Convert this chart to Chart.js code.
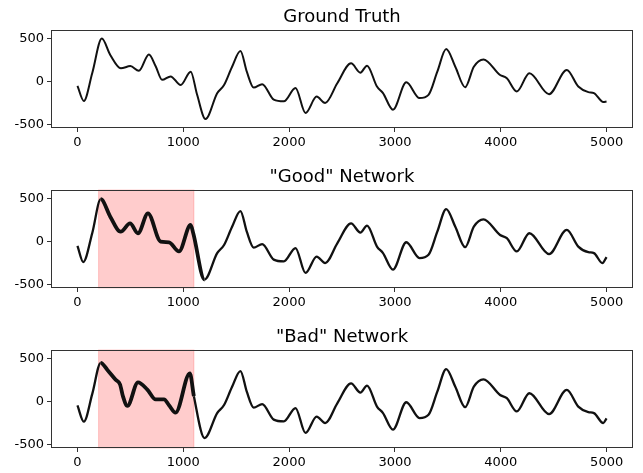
<!DOCTYPE html>
<html>
<head>
<meta charset="utf-8">
<script src="https://cdn.jsdelivr.net/npm/chart.js@4.4.1/dist/chart.umd.min.js"></script>
<style>
  html, body { margin: 0; padding: 0; background: #fff; overflow: hidden; }
  #wrap { position: relative; width: 643px; height: 473px; }
  canvas { position: absolute; left: 0; }
</style>
</head>
<body>
<div id="wrap">
  <canvas id="c-truth" width="643" height="160" style="top:0px"></canvas>
  <canvas id="c-good" width="643" height="160" style="top:160px"></canvas>
  <canvas id="c-bad" width="643" height="153" style="top:320px"></canvas>
</div>
<script>
// --- data ---
const xTicks = [0, 1000, 2000, 3000, 4000, 5000];
const yTicks = [-500, 0, 500];
const errorSpan = [200, 1100]; // shaded region on the network plots

const truthX = [0, 60, 140, 230, 310, 410, 500, 580, 675, 740, 800, 880, 975, 1070, 1130, 1210, 1320, 1385, 1460, 1540, 1600, 1665, 1745, 1855, 1950, 2060, 2155, 2260, 2340, 2455, 2585, 2673, 2736, 2830, 2887, 2981, 3107, 3232, 3317, 3400, 3484, 3570, 3663, 3745, 3836, 3993, 4057, 4151, 4270, 4456, 4623, 4732, 4827, 4880, 4968, 4999];
const truthY = [-50, -225, 100, 500, 310, 155, 180, 125, 315, 175, 20, 60, -40, 115, -150, -435, -135, -40, 170, 355, 115, -70, -30, -210, -230, -75, -365, -175, -250, -20, 212, 104, 185, -58, -134, -327, -8, -192, -154, 115, 378, 173, -65, 173, 258, 77, 39, -115, 97, -146, 135, -58, -123, -134, -238, -231];

const goodX = [0, 55, 140, 220, 310, 408, 497, 572, 666, 786, 865, 959, 1069, 1094, 1201, 1320, 1385, 1460, 1540, 1600, 1665, 1745, 1855, 1950, 2060, 2155, 2260, 2340, 2455, 2585, 2673, 2736, 2830, 2887, 2981, 3107, 3232, 3317, 3400, 3484, 3570, 3663, 3745, 3836, 3993, 4057, 4151, 4270, 4456, 4623, 4732, 4827, 4880, 4960, 4999];
const goodY = [-50, -238, 100, 493, 290, 115, 212, 97, 328, 0, -8, -115, 193, 97, -442, -135, -40, 170, 355, 115, -70, -30, -210, -230, -75, -365, -175, -250, -20, 212, 104, 185, -58, -134, -327, -8, -192, -154, 115, 378, 173, -65, 173, 258, 77, 39, -115, 97, -146, 135, -58, -123, -134, -250, -180];

const badX = [0, 60, 140, 220, 283, 361, 402, 430, 472, 572, 660, 739, 818, 865, 927, 1062, 1100, 1201, 1320, 1385, 1460, 1540, 1600, 1665, 1745, 1855, 1950, 2060, 2155, 2260, 2340, 2455, 2585, 2673, 2736, 2830, 2887, 2981, 3107, 3232, 3317, 3400, 3484, 3570, 3663, 3745, 3836, 3993, 4057, 4151, 4270, 4456, 4623, 4732, 4827, 4880, 4968, 4999];
const badY = [-45, -234, 90, 451, 368, 253, 200, 60, -50, 223, 139, 25, 25, -43, -128, 329, 63, -425, -135, -40, 170, 355, 115, -70, -30, -210, -230, -75, -365, -175, -250, -20, 212, 104, 185, -58, -134, -327, -8, -192, -154, 115, 378, 173, -65, 173, 258, 77, 39, -115, 97, -146, 135, -58, -123, -134, -250, -196];

Chart.defaults.font.family = "'DejaVu Sans', sans-serif";
Chart.defaults.color = '#000';

// draws the shaded span (under the line) and the full axes box (on top)
const boxPlugin = {
    id: 'box',
    beforeDatasetsDraw(chart, args, opts) {
        if (!opts.span) return;
        const a = chart.chartArea, ctx = chart.ctx, xs = chart.scales.x;
        const x0 = xs.getPixelForValue(opts.span[0]);
        const x1 = xs.getPixelForValue(opts.span[1]);
        ctx.save();
        ctx.fillStyle = 'rgba(255,0,0,0.2)';
        ctx.fillRect(x0, a.top, x1 - x0, a.bottom - a.top);
        ctx.strokeStyle = 'rgba(255,0,0,0.2)';
        ctx.lineWidth = 1;
        ctx.strokeRect(x0, a.top, x1 - x0, a.bottom - a.top);
        ctx.restore();
    },
    afterDraw(chart) {
        const a = chart.chartArea, ctx = chart.ctx;
        ctx.save();
        ctx.strokeStyle = '#333';
        ctx.lineWidth = 1;
        ctx.strokeRect(Math.round(a.left) + 0.5, Math.round(a.top) + 0.5,
            Math.round(a.right - a.left) - 1, Math.round(a.bottom - a.top) - 1);
        ctx.restore();
    }
};

function makeChart(id, title, xs, ys, span, baseWidth, spanWidth, axisHeight) {
    const points = xs.map((x, i) => ({ x: x, y: ys[i] }));
    const inSpan = ctx => span && ctx.p0.parsed.x >= span[0] && ctx.p0.parsed.x < span[1];
    return new Chart(document.getElementById(id), {
        type: 'line',
        data: {
            datasets: [{
                data: points,
                borderColor: '#111',
                borderWidth: baseWidth,
                pointRadius: 0,
                cubicInterpolationMode: 'monotone',
                segment: { borderWidth: ctx => inSpan(ctx) ? spanWidth : baseWidth }
            }]
        },
        options: {
            responsive: false,
            animation: false,
            layout: { padding: { left: 0, right: 10, top: 0, bottom: 0 } },
            plugins: {
                legend: { display: false },
                tooltip: { enabled: false },
                title: {
                    display: true, text: title, fullSize: false,
                    font: { size: 18, weight: 'normal', lineHeight: 1 },
                    padding: { top: 8, bottom: 4 }
                },
                box: { span: span }
            },
            scales: {
                x: {
                    type: 'linear', min: -250, max: 5249,
                    afterBuildTicks: s => { s.ticks = xTicks.map(v => ({ value: v })); },
                    afterFit: s => { s.height = axisHeight; },
                    border: { display: false },
                    grid: { drawOnChartArea: false, drawTicks: true, tickLength: 4, color: '#333' },
                    ticks: { font: { size: 13 }, padding: 3, maxRotation: 0, callback: v => String(v) }
                },
                y: {
                    min: -540, max: 600,
                    afterBuildTicks: s => { s.ticks = yTicks.map(v => ({ value: v })); },
                    afterFit: s => { s.width = 51; },
                    border: { display: false },
                    grid: { drawOnChartArea: false, drawTicks: true, tickLength: 4, color: '#333' },
                    ticks: { font: { size: 13 }, padding: 3, callback: v => String(v) }
                }
            }
        },
        plugins: [boxPlugin]
    });
}

makeChart('c-truth', 'Ground Truth', truthX, truthY, null, 2, 2, 32);
makeChart('c-good', '"Good" Network', goodX, goodY, errorSpan, 2.3, 3.8, 32);
makeChart('c-bad', '"Bad" Network', badX, badY, errorSpan, 2.3, 3.8, 25);
</script>
</body>
</html>
